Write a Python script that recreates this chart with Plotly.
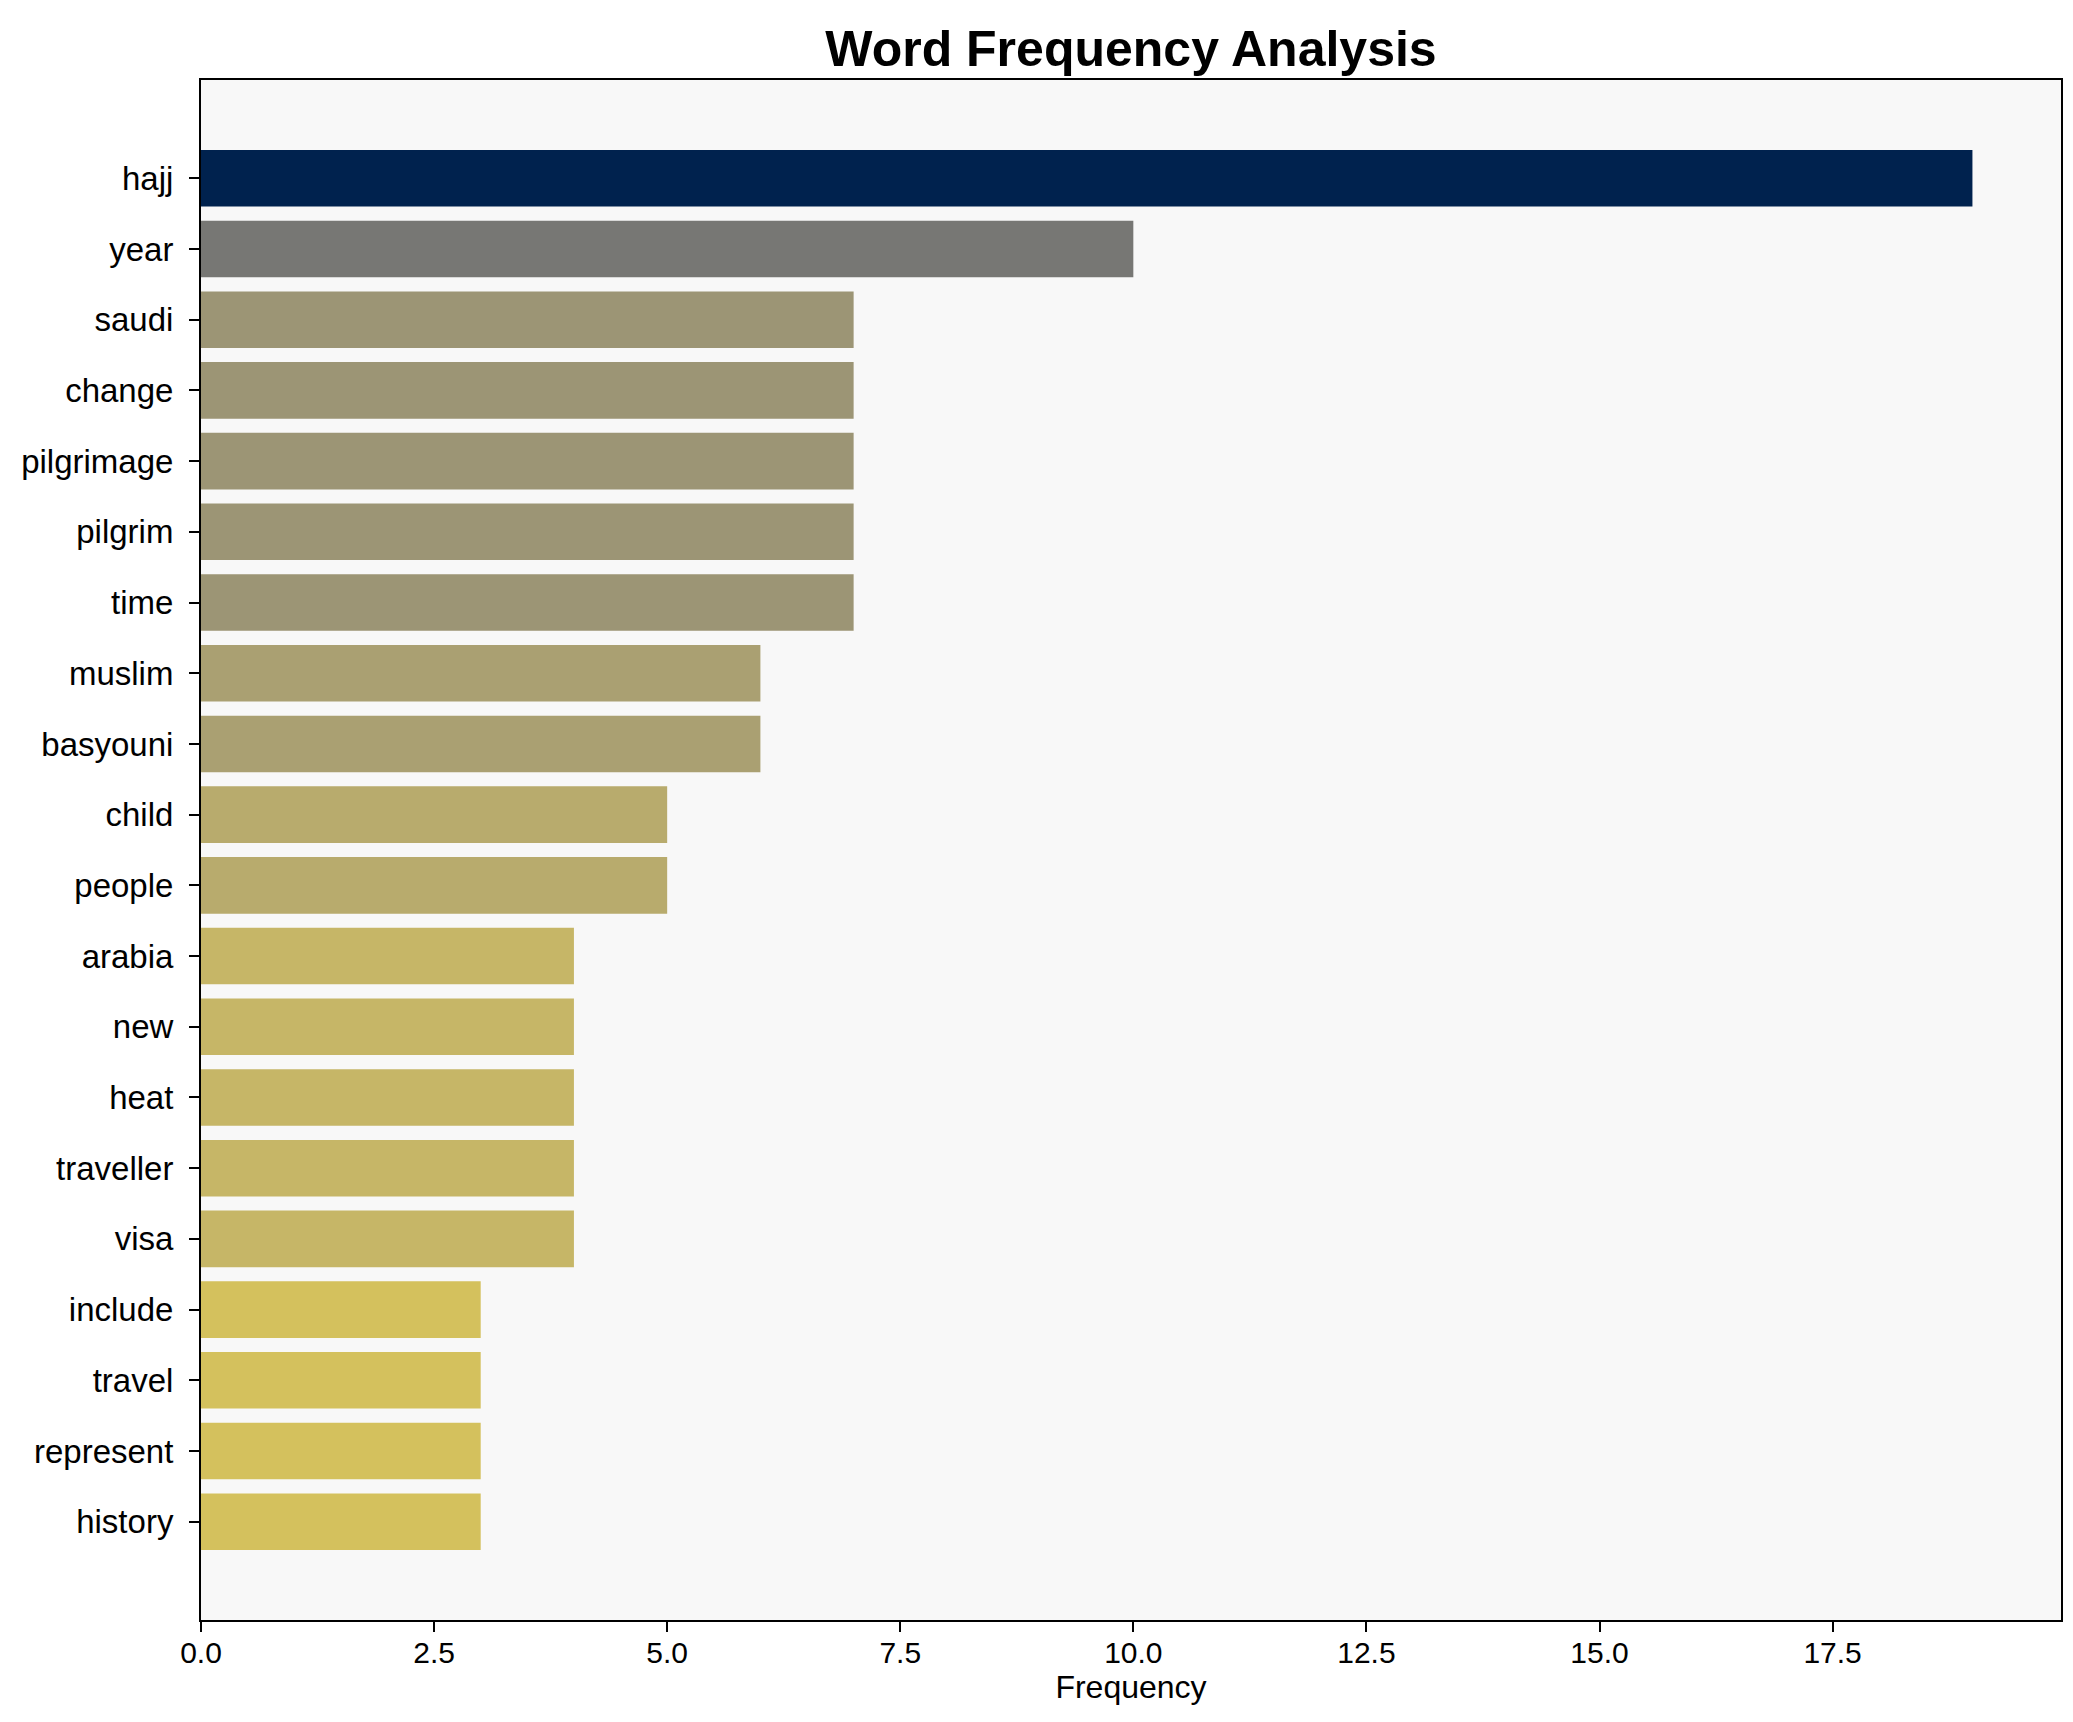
import plotly.graph_objects as go
from plotly.colors import sample_colorscale

words = ["hajj", "year", "saudi", "change", "pilgrimage", "pilgrim", "time",
         "muslim", "basyouni", "child", "people", "arabia", "new", "heat",
         "traveller", "visa", "include", "travel", "represent", "history"]
freqs = [19, 10, 7, 7, 7, 7, 7, 6, 6, 5, 5, 4, 4, 4, 4, 4, 3, 3, 3, 3]
x_ticks = [0, 2.5, 5, 7.5, 10, 12.5, 15, 17.5]

fmax = max(freqs)
colors = sample_colorscale("Cividis", [1 - f / fmax for f in freqs])

fig = go.Figure(go.Bar(
    x=freqs, y=words, orientation="h",
    marker=dict(color=colors, line=dict(width=0)),
    width=0.8,
))

fig.update_layout(
    width=2073, height=1722,
    margin=dict(l=193, r=20, t=72, b=110),
    paper_bgcolor="white",
    plot_bgcolor="#f8f8f8",
    showlegend=False,
    title=dict(text="<b>Word Frequency Analysis</b>", x=0.5, xref="paper",
               xanchor="center", y=1 - 40 / 1722, yanchor="middle",
               font=dict(family="Liberation Sans, Arial", size=50, color="black")),
)

fig.update_xaxes(
    range=[0, fmax * 1.05], tickvals=x_ticks, tickformat=".1f",
    showgrid=False, zeroline=False,
    showline=True, linecolor="black", linewidth=2, mirror=True,
    ticks="outside", ticklen=10, tickwidth=2, tickcolor="black",
    ticklabelstandoff=-5,
    tickfont=dict(family="Liberation Sans, Arial", size=30, color="black"),
    title=dict(text="Frequency", standoff=2,
               font=dict(family="Liberation Sans, Arial", size=32, color="black")),
)
fig.update_yaxes(
    categoryorder="array", categoryarray=words,
    range=[len(words) - 1 + 1.39, -1.39],
    showgrid=False, zeroline=False,
    showline=True, linecolor="black", linewidth=2, mirror=True,
    ticks="outside", ticklen=10, tickwidth=2, tickcolor="black",
    ticklabelstandoff=9,
    tickfont=dict(family="Liberation Sans, Arial", size=33, color="black"),
)

fig.write_html("out.html")
